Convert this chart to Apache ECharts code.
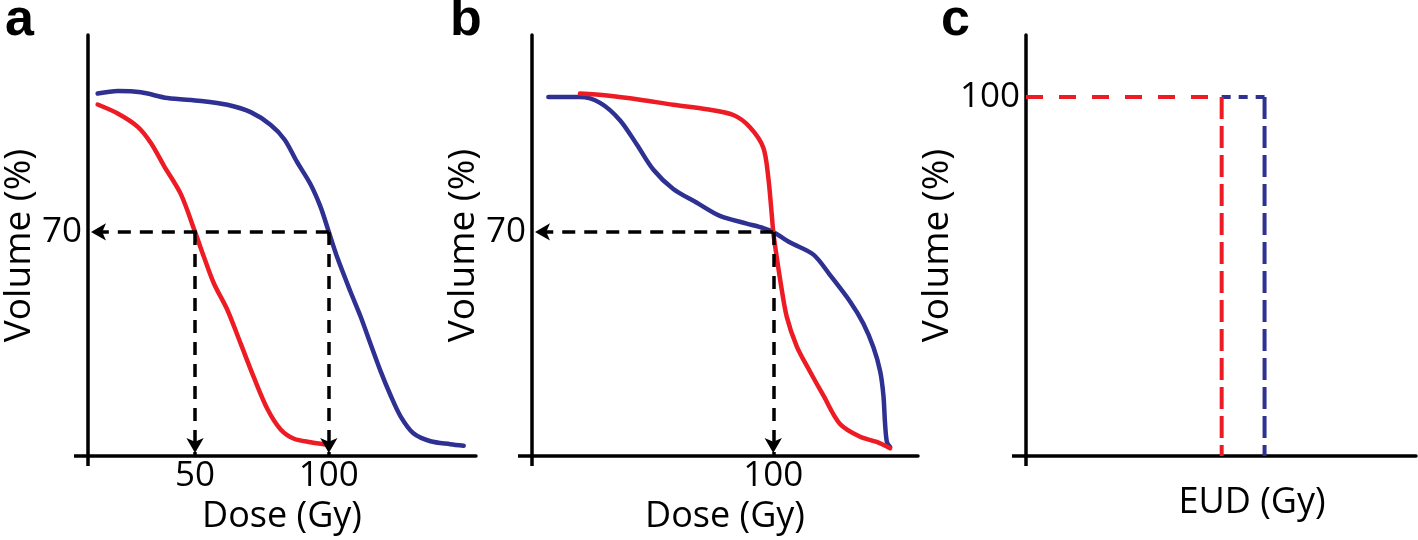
<!DOCTYPE html>
<html><head><meta charset="utf-8">
<script src="https://cdn.jsdelivr.net/npm/echarts@6/dist/echarts.min.js"></script>
<style>html,body{margin:0;padding:0;background:#fff}#chart{width:1418px;height:540px}</style>
</head><body><div id="chart"></div>
<script>
// ---------- data ----------
// Panel a: DVH curves (dose in Gy, volume in %)
const aBlueDose = [13.6, 21.1, 29.8, 39.7, 52.2, 62.1, 70.8, 78.3, 83.5, 88.0, 93.2, 96.9, 100.0, 103.2, 108.1, 111.9, 115.6, 119.3, 123.1, 126.8, 131.6, 138.0, 145.4, 150.4];
const aBlueVol  = [113.2, 114.0, 113.6, 111.8, 110.9, 109.7, 107.4, 103.4, 98.8, 92.0, 84.8, 77.8, 70.0, 61.9, 51.3, 43.5, 35.0, 26.6, 18.9, 12.4, 7.1, 4.6, 3.7, 3.2];
const aRedDose  = [13.6, 21.1, 28.5, 33.5, 38.5, 44.7, 50.0, 53.4, 57.1, 62.1, 67.1, 72.1, 77.1, 82.0, 87.0, 93.2, 98.8];
const aRedVol   = [109.8, 107.0, 102.9, 97.8, 90.5, 81.8, 70.0, 62.0, 53.8, 45.6, 35.0, 24.3, 14.6, 8.3, 5.4, 4.3, 3.6];
// Panel b
const bBlueDose = [16.1, 27.9, 35.4, 42.8, 49.1, 55.3, 62.7, 71.5, 80.1, 90.1, 96.3, 100.0, 106.3, 115.0, 121.2, 128.7, 133.6, 137.4, 139.9, 141.1, 141.7, 142.4, 143.6];
const bBlueVol  = [112.1, 112.1, 110.3, 104.9, 97.3, 89.4, 83.4, 79.1, 75.0, 72.6, 71.2, 70.0, 66.7, 62.9, 56.5, 48.2, 41.4, 33.9, 26.4, 18.9, 10.3, 4.4, 2.8];
const bRedDose  = [27.9, 37.9, 50.3, 62.7, 75.2, 85.1, 91.3, 96.3, 98.2, 99.4, 100.0, 100.7, 102.5, 105.0, 108.8, 113.7, 118.7, 124.9, 132.4, 138.6, 143.6];
const bRedVol   = [113.2, 112.6, 111.3, 109.7, 108.3, 106.5, 102.7, 96.3, 86.6, 75.8, 70.0, 65.6, 55.5, 43.6, 34.2, 26.4, 18.9, 10.0, 6.0, 4.4, 2.4];
// Panel c: EUD step (Gy) at 100 %
const cEudRed = 83;
const cEudBlue = 99;
const cVolume = 100;
// Guides (dashed arrows) and tick labels
const guideVolume = 70;
const aGuideDoses = [50, 100];
const bGuideDose = 100;
const xTicksA = [50, 100];
const xTicksB = [100];
const yTicksAB = [70];
const yTicksC = [100];
const panelLetters = ['a', 'b', 'c'];
const xName = ['Dose (Gy)', 'Dose (Gy)', 'EUD (Gy)'];
const yName = 'Volume (%)';

// ---------- styling ----------
const BLUE = '#2e3192', RED = '#ed1c24', BLACK = '#000';
const FONT = '"Open Sans", "Noto Sans", sans-serif';
const DOSE_MIN = 10;
const pairs = (xs, ys) => xs.map((x, i) => [x, ys[i]]);

function xAxis(gi, max, ticks, name, pad) {
  return {
    type: 'value', gridIndex: gi, min: DOSE_MIN, max: max,
    axisLine: { onZero: false, lineStyle: { color: BLACK, width: 3.5 } },
    axisTick: { show: true, customValues: [DOSE_MIN], length: 10, lineStyle: { color: BLACK, width: 3.5 } },
    splitLine: { show: false },
    axisLabel: ticks.length ? { show: true, customValues: ticks, fontSize: 35, fontFamily: FONT, color: BLACK, margin: 3 } : { show: false },
    name: name, nameLocation: 'middle', nameGap: 29,
    nameTextStyle: { fontSize: 36, fontFamily: FONT, color: BLACK, padding: pad || 0 }
  };
}
function yAxis(gi, max, ticks, labelPad) {
  return {
    type: 'value', gridIndex: gi, min: 0, max: max,
    axisLine: { onZero: false, lineStyle: { color: BLACK, width: 3.5 } },
    axisTick: { show: true, customValues: [0], length: 14, lineStyle: { color: BLACK, width: 3.5 } },
    splitLine: { show: false },
    axisLabel: { show: true, customValues: ticks, fontSize: 35, fontFamily: FONT, color: BLACK, margin: 6, padding: labelPad || 0 },
    name: yName, nameLocation: 'middle', nameGap: 50,
    nameTextStyle: { fontSize: 37, fontFamily: FONT, color: BLACK }
  };
}
function curve(gi, xs, ys, color) {
  return {
    type: 'line', xAxisIndex: gi, yAxisIndex: gi, data: pairs(xs, ys),
    showSymbol: false, symbol: 'none', smooth: 0.3,
    lineStyle: { color: color, width: 4.5, cap: 'round', join: 'round' }, silent: true, z: 3
  };
}
function guides(gi, segs) {
  return {
    type: 'line', xAxisIndex: gi, yAxisIndex: gi, data: [], silent: true,
    markLine: {
      silent: true, animation: false,
      symbol: ['none', 'arrow'], symbolSize: [13, 15], symbolOffset: [[0, 0], [0, 3]],
      label: { show: false },
      lineStyle: { color: BLACK, width: 3.5, type: [13, 9] },
      emphasis: { disabled: true },
      data: segs.map(s => [{ coord: s[0] }, { coord: s[1] }])
    }
  };
}
function dashed(gi, pts, color, dash) {
  return {
    type: 'line', xAxisIndex: gi, yAxisIndex: gi, data: pts, showSymbol: false, symbol: 'none',
    lineStyle: { color: color, width: 4, type: dash }, silent: true
  };
}

const chart = echarts.init(document.getElementById('chart'), null, { renderer: 'canvas' });
chart.setOption({
  animation: false,
  backgroundColor: '#fff',
  grid: [
    { left: 87, top: 35, width: 389, height: 421 },
    { left: 532, top: 35, width: 386, height: 421 },
    { left: 1026, top: 35, width: 390, height: 421 }
  ],
  xAxis: [
    xAxis(0, 155, xTicksA, xName[0]),
    xAxis(1, 154, xTicksB, xName[1]),
    xAxis(2, 155.5, [], xName[2], [0, 0, 0, 62])
  ],
  yAxis: [
    yAxis(0, 131.5, yTicksAB, [6, 0, 0, 0]),
    yAxis(1, 131.5, yTicksAB, [6, 0, 0, 0]),
    yAxis(2, 117.3, yTicksC, [0, 0, 14, 0])
  ],
  graphic: panelLetters.map((t, i) => ({
    type: 'text', x: [5, 450, 941][i], y: 21,
    style: { text: t, font: 'bold 52px "Liberation Sans", Arial, sans-serif', fill: BLACK, textVerticalAlign: 'middle' },
    silent: true
  })),
  series: [
    curve(0, aBlueDose, aBlueVol, BLUE),
    curve(0, aRedDose, aRedVol, RED),
    guides(0, [
      [[aGuideDoses[1], guideVolume], [DOSE_MIN, guideVolume]],
      [[aGuideDoses[0], guideVolume], [aGuideDoses[0], 0]],
      [[aGuideDoses[1], guideVolume], [aGuideDoses[1], 0]]
    ]),
    curve(1, bBlueDose, bBlueVol, BLUE),
    curve(1, bRedDose, bRedVol, RED),
    guides(1, [
      [[bGuideDose, guideVolume], [DOSE_MIN, guideVolume]],
      [[bGuideDose, guideVolume], [bGuideDose, 0]]
    ]),
    dashed(2, [[DOSE_MIN, cVolume], [cEudRed, cVolume]], RED, [17, 16]),
    dashed(2, [[cEudRed, cVolume], [cEudBlue, cVolume]], BLUE, [9, 8]),
    dashed(2, [[cEudRed, cVolume], [cEudRed, 0]], RED, [22, 7]),
    dashed(2, [[cEudBlue, cVolume], [cEudBlue, 0]], BLUE, [22, 7])
  ]
});
</script></body></html>
